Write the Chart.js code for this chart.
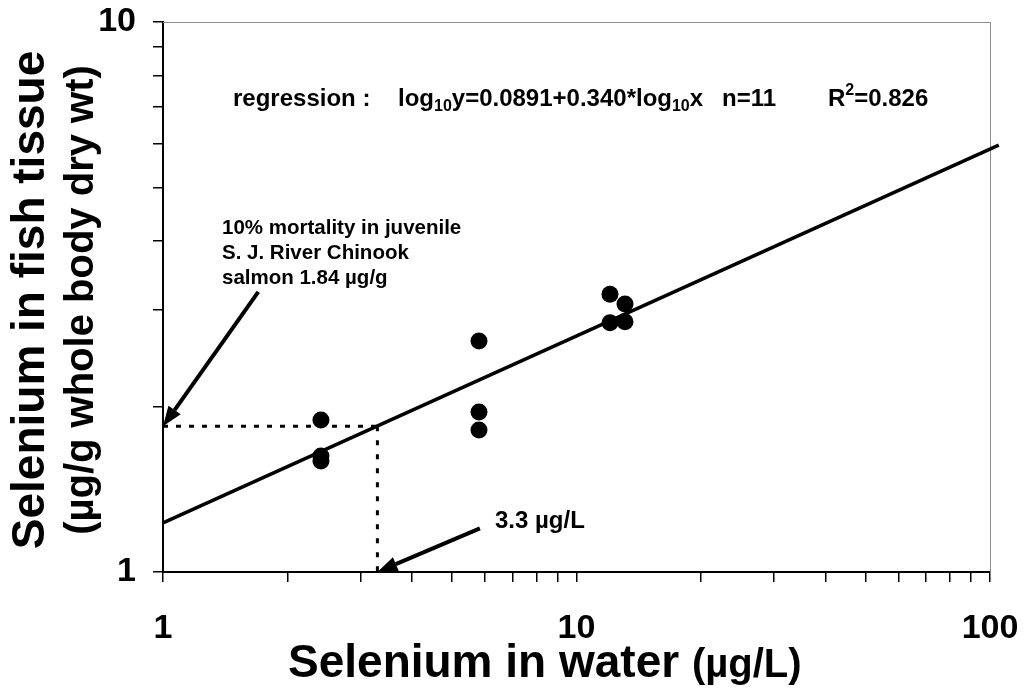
<!DOCTYPE html>
<html><head><meta charset="utf-8">
<script src="https://cdn.jsdelivr.net/npm/chart.js@4.4.1/dist/chart.umd.min.js"></script>
<style>html,body{margin:0;padding:0;background:#fff}canvas{display:block}</style>
</head><body>
<canvas id="c" width="1024" height="688"></canvas>
<script>
// ---- data ----
const xTickValues = [1,2,3,4,5,6,7,8,9,10,20,30,40,50,60,70,80,90,100];
const xTickLabeled = [1,10,100];
const yTickValues = [1,2,3,4,5,6,7,8,9,10];
const yTickLabeled = [1,10];

const seWater  = [2.41, 2.41, 2.41, 5.81, 5.81, 5.81, 12.05, 13.1, 12.05, 13.1];
const seTissue = [1.89, 1.625, 1.592, 2.63, 1.954, 1.812, 3.20, 3.07, 2.84, 2.85];

const regX = [1, 105];
const regY = [1.228, 5.97];

const critX = [1, 3.3, 3.3];
const critY = [1.84, 1.84, 1];

const arrow1From = [1.70, 3.23], arrow1To = [1, 1.84];
const arrow2From = [5.84, 1.20], arrow2To = [3.3, 1.0];

const xTitle = 'Selenium in water';
const xTitleUnit = '(µg/L)';
const yTitle = 'Selenium in fish tissue';
const yTitleUnit = '(µg/g whole body dry wt)';
const noteLines = ['10% mortality in juvenile', 'S. J. River Chinook', 'salmon 1.84 µg/g'];
const critLabel = '3.3 µg/L';

const FONT = '"Liberation Sans", Arial, Helvetica, sans-serif';

function drawArrow(ctx, x1, y1, x2, y2, lw, hl, hw) {
  const a = Math.atan2(y2 - y1, x2 - x1);
  const bx = x2 - hl * Math.cos(a), by = y2 - hl * Math.sin(a);
  ctx.save();
  ctx.strokeStyle = '#000'; ctx.fillStyle = '#000'; ctx.lineWidth = lw;
  ctx.beginPath(); ctx.moveTo(x1, y1); ctx.lineTo(bx, by); ctx.stroke();
  ctx.beginPath();
  ctx.moveTo(x2, y2);
  ctx.lineTo(bx + hw/2 * Math.sin(a), by - hw/2 * Math.cos(a));
  ctx.lineTo(bx - hw/2 * Math.sin(a), by + hw/2 * Math.cos(a));
  ctx.closePath(); ctx.fill();
  ctx.restore();
}

function drawRich(ctx, x, y, parts) {
  let cx = x;
  for (const p of parts) {
    ctx.font = 'bold ' + p.size + 'px ' + FONT;
    ctx.fillText(p.t, cx, y + (p.dy || 0));
    cx += ctx.measureText(p.t).width;
  }
  return cx;
}

const annotate = {
  id: 'annotate',
  beforeDatasetsDraw(chart) {
    const {ctx, chartArea: a} = chart;
    ctx.save();
    ctx.strokeStyle = '#8c8c8c'; ctx.lineWidth = 1;
    ctx.beginPath();
    ctx.moveTo(a.left, a.top + 0.5); ctx.lineTo(a.right + 0.5, a.top + 0.5); ctx.lineTo(a.right + 0.5, a.bottom);
    ctx.stroke();
    ctx.restore();
  },
  afterDatasetsDraw(chart) {
    const {ctx} = chart;
    const xs = chart.scales.x, ys = chart.scales.y;
    const px = v => xs.getPixelForValue(v), py = v => ys.getPixelForValue(v);
    drawArrow(ctx, px(arrow1From[0]), py(arrow1From[1]), px(arrow1To[0]), py(arrow1To[1]), 4, 20, 15);
    drawArrow(ctx, px(arrow2From[0]), py(arrow2From[1]), px(arrow2To[0]), py(arrow2To[1]), 4, 20, 15);

    ctx.save();
    ctx.fillStyle = '#000';
    ctx.textAlign = 'left';
    ctx.textBaseline = 'alphabetic';
    // regression text
    const base = 106;
    drawRich(ctx, 233, base, [{t: 'regression :', size: 24}]);
    drawRich(ctx, 398, base, [
      {t: 'log', size: 24}, {t: '10', size: 16, dy: 5},
      {t: 'y=0.0891+0.340*log', size: 24}, {t: '10', size: 16, dy: 5},
      {t: 'x', size: 24}]);
    drawRich(ctx, 722, base, [{t: 'n=11', size: 24}]);
    drawRich(ctx, 828, base, [{t: 'R', size: 24}, {t: '2', size: 16, dy: -11}, {t: '=0.826', size: 24}]);
    // mortality note
    ctx.font = 'bold 20.5px ' + FONT;
    ctx.textBaseline = 'middle';
    noteLines.forEach((s, i) => ctx.fillText(s, 222, 228 + i * 25));
    ctx.font = 'bold 24px ' + FONT;
    ctx.fillText(critLabel, 495, 521);
    ctx.restore();
  },
  afterDraw(chart) {
    const {ctx} = chart;
    ctx.save();
    ctx.fillStyle = '#000';
    ctx.textBaseline = 'middle';
    ctx.textAlign = 'center';
    // y titles (rotated)
    ctx.save();
    ctx.translate(31, 300); ctx.rotate(-Math.PI / 2);
    ctx.font = 'bold 46px ' + FONT;
    ctx.fillText(yTitle, 0, 0);
    ctx.restore();
    ctx.save();
    ctx.translate(82, 300); ctx.rotate(-Math.PI / 2);
    ctx.font = 'bold 40px ' + FONT;
    ctx.fillText(yTitleUnit, 0, 0);
    ctx.restore();
    // x title
    ctx.textAlign = 'left';
    ctx.textBaseline = 'alphabetic';
    ctx.font = 'bold 46px ' + FONT;
    ctx.fillText(xTitle, 288, 677);
    const w = ctx.measureText(xTitle + ' ').width;
    ctx.font = 'bold 40px ' + FONT;
    ctx.fillText(xTitleUnit, 288 + w, 677);
    ctx.restore();
  }
};

const pts = seWater.map((x, i) => ({x, y: seTissue[i]}));
const reg = regX.map((x, i) => ({x, y: regY[i]}));
const hLine = [{x: critX[0], y: critY[0]}, {x: critX[1], y: critY[1]}];
const vLine = [{x: critX[1], y: critY[1]}, {x: critX[2], y: critY[2]}];

const tickFont = {family: FONT, size: 34, weight: 'bold'};

new Chart(document.getElementById('c'), {
  data: {
    datasets: [
      {type: 'scatter', data: pts, pointRadius: 8.5, pointHoverRadius: 8.5, backgroundColor: '#000', borderColor: '#000', borderWidth: 0},
      {type: 'line', data: reg, borderColor: '#000', borderWidth: 3.5, pointRadius: 0, clip: false, tension: 0},
      {type: 'line', data: hLine, borderColor: '#000', borderWidth: 3, borderDash: [5, 8], pointRadius: 0, borderCapStyle: 'butt'},
      {type: 'line', data: vLine, borderColor: '#000', borderWidth: 3, borderDash: [5, 9], pointRadius: 0, borderCapStyle: 'butt'}
    ]
  },
  options: {
    responsive: false,
    animation: false,
    devicePixelRatio: 1,
    events: [],
    layout: {padding: {top: 22, right: 34, left: 0, bottom: 0}},
    plugins: {legend: {display: false}, tooltip: {enabled: false}},
    scales: {
      x: {
        type: 'logarithmic', position: 'bottom', min: 1, max: 100,
        afterBuildTicks: s => { s.ticks = xTickValues.map(v => ({value: v})); },
        afterFit: s => { s.height = 116; s.paddingLeft = 0; s.paddingRight = 0; },
        ticks: {
          autoSkip: false, maxRotation: 0, color: '#000', font: tickFont, padding: 26,
          callback: v => xTickLabeled.includes(v) ? String(v) : ''
        },
        grid: {drawOnChartArea: false, drawTicks: true, tickLength: 10, color: '#000', lineWidth: 1.5},
        border: {display: true, color: '#000', width: 2}
      },
      y: {
        type: 'logarithmic', position: 'left', min: 1, max: 10,
        afterBuildTicks: s => { s.ticks = yTickValues.map(v => ({value: v})); },
        afterFit: s => { s.width = 163; s.paddingTop = 0; s.paddingBottom = 0; },
        ticks: {
          autoSkip: false, color: '#000', font: tickFont, padding: 17,
          callback: v => yTickLabeled.includes(v) ? String(v) : ''
        },
        grid: {drawOnChartArea: false, drawTicks: true, tickLength: 10, color: '#000', lineWidth: 1.5},
        border: {display: true, color: '#000', width: 2}
      }
    }
  },
  plugins: [annotate]
});
</script>
</body></html>
